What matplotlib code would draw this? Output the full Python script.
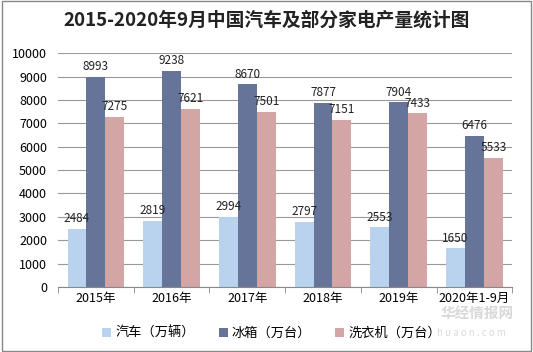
import numpy as np
import matplotlib.pyplot as plt

plt.rcParams['font.family'] = ['Noto Sans CJK SC', 'DejaVu Sans']

years = ['2015年', '2016年', '2017年', '2018年', '2019年', '2020年1-9月']
cars = [2484, 2819, 2994, 2797, 2553, 1650]
fridges = [8993, 9238, 8670, 7877, 7904, 6476]
washers = [7275, 7621, 7501, 7151, 7433, 5533]
names = ['汽车（万辆）', '冰箱（万台）', '洗衣机（万台）']
colors = ['#B9D3EE', '#667499', '#D4A5A5']

fig = plt.figure(figsize=(5.33, 3.52), dpi=100)
ax = fig.add_axes([0.109, 0.185, 0.852, 0.664])

x = np.arange(len(years))
w = 0.25
for i, (vals, name, c) in enumerate(zip([cars, fridges, washers], names, colors)):
    bars = ax.bar(x + (i - 1) * w, vals, w, color=c, label=name, zorder=2)
    for b, v in zip(bars, vals):
        ax.text(b.get_x() + b.get_width() / 2, v + 150, str(v),
                ha='center', va='bottom', fontsize=8.5, color='#222222')

ax.set_xlim(-0.5, len(years) - 0.5)
ax.set_ylim(0, 10000)
ax.set_yticks(range(0, 10001, 1000))
ax.yaxis.grid(True, color='#999999', linewidth=0.8, zorder=0)
ax.set_axisbelow(True)
for s in ['top', 'right', 'left']:
    ax.spines[s].set_visible(False)
ax.spines['bottom'].set_color('#888888')
ax.tick_params(axis='y', length=0, labelsize=9, pad=8)
ax.set_xticks(x)
ax.set_xticklabels(years, fontsize=9)
ax.tick_params(axis='x', length=0, pad=4)
ax.set_xticks(np.arange(-0.5, len(years)), minor=True)
ax.tick_params(axis='x', which='minor', length=4, color='#888888')

fig.suptitle('2015-2020年9月中国汽车及部分家电产量统计图', y=0.97,
             fontsize=13.5, fontweight='bold', color='#222222')

ax.legend(loc='upper center', bbox_to_anchor=(0.47, -0.12), ncol=3, frameon=False,
          fontsize=9.5, handlelength=0.7, handleheight=0.7, columnspacing=1.8,
          handletextpad=0.3)

# watermark
fig.text(0.895, 0.11, '华经情报网', fontsize=10.5, color='#cfcfcf', ha='center',
         va='center', fontweight='bold', alpha=0.8, zorder=5)
fig.text(0.885, 0.055, 'h u a o n . c o m', fontsize=7, color='#d0d0d0', ha='center',
         va='center', alpha=0.8, zorder=5)

border = plt.Rectangle((0.004, 0.004), 0.992, 0.992, transform=fig.transFigure,
                       fill=False, edgecolor='#888888', linewidth=1)
fig.patches.append(border)

fig.savefig('out.png', dpi=100)
